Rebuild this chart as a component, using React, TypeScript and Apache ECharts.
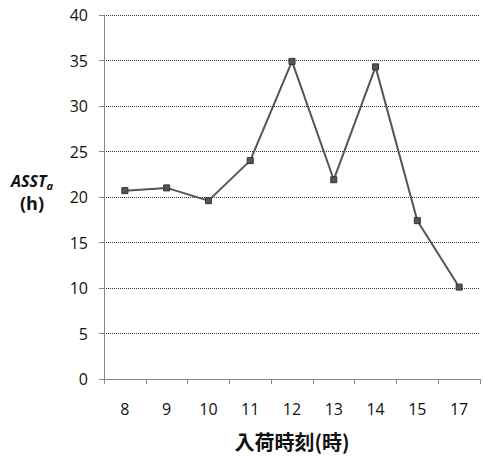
import React, { useEffect, useRef } from "react";
import * as echarts from "echarts";

const categories = ["8", "9", "10", "11", "12", "13", "14", "15", "17"];
const asstValues = [20.7, 21.0, 19.6, 24.0, 34.9, 21.9, 34.3, 17.4, 10.1];
const yTicks = { min: 0, max: 40, interval: 5 };

export default function App() {
  const ref = useRef<HTMLDivElement>(null);
  useEffect(() => {
    const chart = echarts.init(ref.current!, null, { renderer: "svg" });
    chart.setOption({
      animation: false,
      backgroundColor: "#fff",
      textStyle: { fontFamily: "Open Sans, Liberation Sans, sans-serif" },
      grid: { left: 104, top: 15, width: 376, height: 364 },
      xAxis: {
        type: "category",
        data: categories,
        boundaryGap: true,
        axisLine: { lineStyle: { color: "#888", width: 1 } },
        axisTick: { show: true, length: 5, lineStyle: { color: "#888" } },
        axisLabel: { color: "#111", fontSize: 16, margin: 22 },
        name: "入荷時刻(時)",
        nameLocation: "middle",
        nameGap: 52,
        nameTextStyle: {
          color: "#111",
          fontSize: 20,
          fontWeight: "bold",
          fontFamily: "Noto Sans CJK JP, sans-serif",
        },
      },
      yAxis: {
        type: "value",
        min: yTicks.min,
        max: yTicks.max,
        interval: yTicks.interval,
        axisLine: { show: true, lineStyle: { color: "#888", width: 1 } },
        axisTick: { show: true, length: 5, lineStyle: { color: "#888" } },
        axisLabel: { color: "#111", fontSize: 16, margin: 16 },
        splitLine: { lineStyle: { color: "#333", type: "dotted", width: 1 } },
      },
      graphic: [
        {
          type: "text",
          left: 11,
          top: 173,
          style: {
            text: "{a|ASST}{s|a}\n{h|(h)}",
            textAlign: "center",
            rich: {
              a: { fontSize: 16, fontWeight: "bold", fontStyle: "italic", fill: "#111", lineHeight: 20, fontFamily: "Open Sans, sans-serif" },
              s: { fontSize: 11, fontWeight: "bold", fontStyle: "italic", fill: "#111", lineHeight: 20, verticalAlign: "bottom", fontFamily: "Open Sans, sans-serif" },
              h: { fontSize: 18, fontWeight: "bold", fill: "#111", lineHeight: 24, fontFamily: "Open Sans, sans-serif" },
            },
          },
        },
      ],
      series: [
        {
          type: "line",
          data: asstValues,
          symbol: "rect",
          symbolSize: 6,
          lineStyle: { color: "#555", width: 2 },
          itemStyle: { color: "#555", borderColor: "#333", borderWidth: 1 },
        },
      ],
    });
    return () => chart.dispose();
  }, []);
  return (
    <div
      ref={ref}
      style={{ position: "absolute", left: 0, top: 0, width: 483, height: 456 }}
    />
  );
}
